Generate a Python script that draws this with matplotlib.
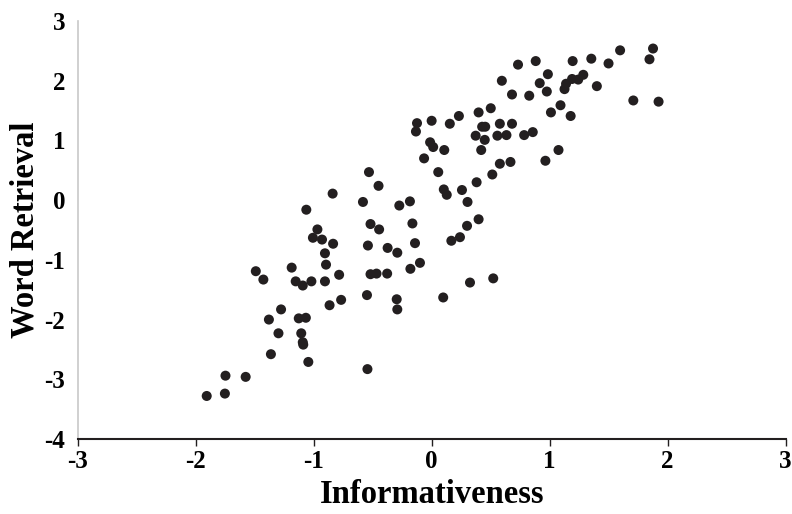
import matplotlib
matplotlib.use("Agg")
import matplotlib.pyplot as plt

informativeness = [
    -1.906, -1.747, -1.752, -1.576, -1.362, -1.298, -1.379, -1.276, -1.49, -1.426,
    -1.186, -1.152, -1.092, -1.019, -1.126, -1.066, -1.105, -1.092, -1.088, -1.045,
    -1.062, -0.968, -1.006, -0.929, -0.835, -0.904, -0.895, -0.904, -0.784, -0.865,
    -0.767, -0.839, -0.582, -0.531, -0.45, -0.518, -0.445, -0.54, -0.373, -0.291,
    -0.518, -0.467, -0.377, -0.548, -0.544, -0.296, -0.291, -0.184, -0.274, -0.163,
    -0.141, -0.099, -0.180, -0.124, -0.133, 0.0, -0.013, 0.013, -0.064, 0.107,
    0.056, 0.154, 0.231, 0.103, 0.128, 0.257, 0.304, 0.398, 0.30, 0.24,
    0.167, 0.098, 0.325, 0.522, 0.381, 0.42, 0.373, 0.45, 0.428, 0.454,
    0.398, 0.501, 0.514, 0.578, 0.557, 0.578, 0.634, 0.668, 0.681, 0.595,
    0.681, 0.732, 0.784, 0.857, 0.827, 0.882, 0.916, 0.985, 0.976, 0.964,
    1.075, 1.011, 1.092, 1.178, 1.126, 1.139, 1.19, 1.195, 1.242, 1.285,
    1.353, 1.40, 1.499, 1.597, 1.709, 1.846, 1.876, 1.923,
]
word_retrieval = [
    -3.28, -2.94, -3.24, -2.96, -2.58, -2.23, -2.00, -1.83, -1.19, -1.33,
    -1.13, -1.36, -1.43, -1.36, -1.98, -1.97, -2.23, -2.38, -2.42, -2.71,
    -0.16, -0.49, -0.63, -0.66, -0.73, -0.89, -1.08, -1.36, -1.25, -1.76,
    -1.67, 0.11, -0.03, 0.47, 0.24, -0.40, -0.49, -0.76, -0.80, -0.88,
    -1.24, -1.23, -1.23, -1.59, -2.83, -1.66, -1.83, -0.02, -0.09, -0.39,
    -0.72, -1.05, -1.15, 1.29, 1.15, 1.33, 0.97, 0.89, 0.70, 0.84,
    0.47, 1.28, 1.41, 0.18, 0.09, 0.17, -0.03, -0.32, -0.43, -0.62,
    -0.68, -1.63, -1.38, -1.31, 0.30, 0.84, 1.08, 1.01, 1.23, 1.23,
    1.47, 1.54, 0.43, 0.61, 1.08, 1.28, 1.09, 0.64, 1.28, 2.00,
    1.77, 2.27, 1.09, 1.14, 1.75, 2.33, 1.96, 2.11, 1.82, 0.66,
    0.84, 1.47, 1.59, 1.41, 1.86, 1.95, 2.03, 2.33, 2.02, 2.10,
    2.37, 1.91, 2.29, 2.51, 1.67, 2.36, 2.54, 1.65,
]
x_ticks = [-3, -2, -1, 0, 1, 2, 3]
y_ticks = [-4, -3, -2, -1, 0, 1, 2, 3]

plt.rcParams['font.family'] = ['Liberation Serif', 'DejaVu Serif']
plt.rcParams['font.weight'] = 'bold'

fig = plt.figure(figsize=(7.92, 5.14), dpi=100)
ax = fig.add_axes([0.098, 0.146, 0.894, 0.813])
ax.scatter(informativeness, word_retrieval, s=52, color='#231f20', edgecolors='none', zorder=3)

ax.set_xlim(-3, 3)
ax.set_ylim(-4, 3)
ax.set_xticks(x_ticks)
ax.set_yticks(y_ticks)
ax.set_xticklabels([str(v) for v in x_ticks], fontsize=18, fontweight='bold')
ax.set_yticklabels([str(v) for v in y_ticks], fontsize=18, fontweight='bold')
ax.tick_params(axis='x', direction='out', length=5, width=1.0, color='#231f20', pad=3)
ax.tick_params(axis='y', direction='out', length=0, pad=9)

for s in ['top', 'right']:
    ax.spines[s].set_visible(False)
ax.spines['bottom'].set_color('#231f20')
ax.spines['bottom'].set_linewidth(1.5)
ax.spines['left'].set_color('#c8c8c8')
ax.spines['left'].set_linewidth(1.2)

ax.set_xlabel('Informativeness', fontsize=23.5, fontweight='bold', labelpad=4)
ax.set_ylabel('Word Retrieval', fontsize=23.5, fontweight='bold', labelpad=3)

fig.savefig('out.png', dpi=100)
